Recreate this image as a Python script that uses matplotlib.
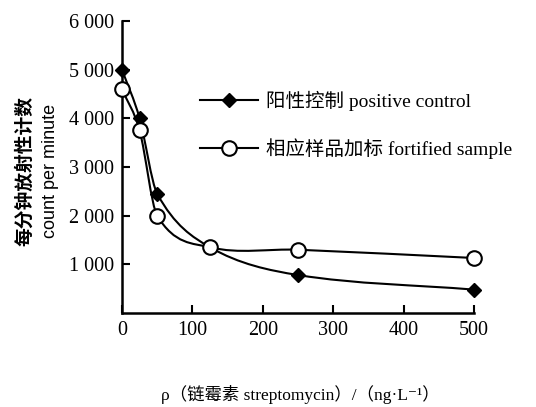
import numpy as np
import matplotlib

matplotlib.use("Agg")
import matplotlib.pyplot as plt
from matplotlib.path import Path
from matplotlib.patches import PathPatch
from matplotlib.lines import Line2D

# Streptomycin concentration (ng/L) and counts per minute
conc = [0, 25, 50, 125, 250, 500]
positive_control = [5000, 4000, 2450, 1350, 780, 480]
fortified_sample = [4600, 3750, 2000, 1350, 1300, 1130]

y_ticks = [1000, 2000, 3000, 4000, 5000, 6000]
y_tick_labels = ["1 000", "2 000", "3 000", "4 000", "5 000", "6 000"]
x_ticks = [0, 100, 200, 300, 400, 500]

legend_labels = ["阳性控制 positive control", "相应样品加标 fortified sample"]
ylabel_cn = "每分钟放射性计数"
ylabel_en = "count per minute"
xlabel = "ρ（链霉素 streptomycin）/（ng·L⁻¹）"

SERIF = ["Liberation Serif", "Noto Sans CJK SC", "DejaVu Serif"]
plt.rcParams["font.family"] = SERIF


def smooth_path(xs, ys):
    """Cubic Bezier path through the points (drawn by matplotlib)."""
    xs = np.asarray(xs, float)
    ys = np.asarray(ys, float)
    n = len(xs)
    verts = [(xs[0], ys[0])]
    codes = [Path.MOVETO]
    for i in range(n - 1):
        i0 = max(i - 1, 0)
        i3 = min(i + 2, n - 1)
        h = xs[i + 1] - xs[i]
        m1 = (ys[i + 1] - ys[i0]) / (xs[i + 1] - xs[i0])
        m2 = (ys[i3] - ys[i]) / (xs[i3] - xs[i])
        c1 = (xs[i] + h / 3, ys[i] + m1 * h / 3)
        c2 = (xs[i + 1] - h / 3, ys[i + 1] - m2 * h / 3)
        verts += [c1, c2, (xs[i + 1], ys[i + 1])]
        codes += [Path.CURVE4] * 3
    return Path(verts, codes)


fig = plt.figure(figsize=(5.36, 4.07), dpi=100)
ax = fig.add_axes([0.2276, 0.231, 0.6567, 0.7174])

for ys in (positive_control, fortified_sample):
    ax.add_patch(PathPatch(smooth_path(conc, ys), facecolor="none",
                           edgecolor="black", lw=1.5, zorder=2))

ax.plot(conc, positive_control, ls="none", marker="D", ms=7.5,
        color="black", zorder=3, clip_on=False)
ax.plot(conc, fortified_sample, ls="none", marker="o", ms=10.5,
        mfc="white", mec="black", mew=1.5, zorder=4, clip_on=False)

ax.set_xlim(0, 500)
ax.set_ylim(0, 6000)
ax.set_xticks(x_ticks)
ax.set_yticks(y_ticks)
ax.set_yticklabels(y_tick_labels)
for s in ("top", "right"):
    ax.spines[s].set_visible(False)
for s in ("left", "bottom"):
    ax.spines[s].set_linewidth(1.8)
ax.tick_params(direction="in", length=6, width=1.5, labelsize=14.5, pad=6)

handles = [
    Line2D([], [], color="black", lw=1.5, marker="D", ms=7.5),
    Line2D([], [], color="black", lw=1.5, marker="o", ms=10.5,
           mfc="white", mec="black", mew=1.5),
]
ax.legend(handles, legend_labels, loc="upper left", bbox_to_anchor=(0.222, 0.76),
          frameon=False, borderpad=0, borderaxespad=0, handlelength=3.0,
          handletextpad=0.4, labelspacing=1.4, prop={"family": SERIF, "size": 14})

fig.text(0.047, 0.58, ylabel_cn, rotation=90, ha="center", va="center",
         fontsize=13.5, family=["Noto Sans CJK SC"], weight="bold")
fig.text(0.094, 0.58, ylabel_en, rotation=90, ha="center", va="center",
         fontsize=13, family=["Liberation Sans"])
fig.text(0.56, 0.03, xlabel, ha="center", va="center", fontsize=12.5)

fig.savefig("out.png", dpi=100)
